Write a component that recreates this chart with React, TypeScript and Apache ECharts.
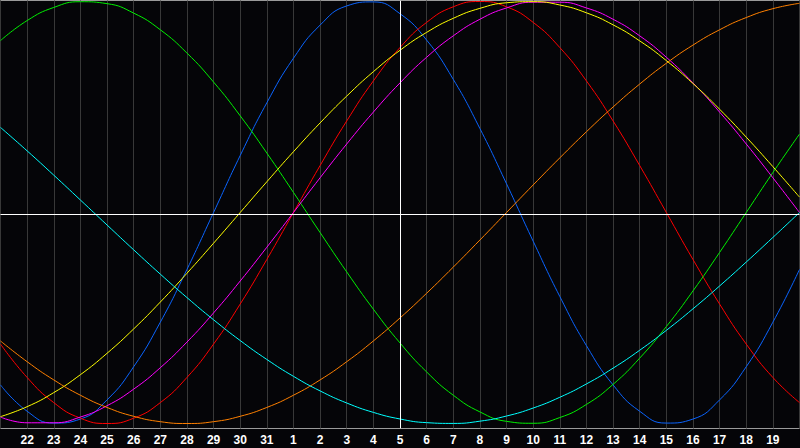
import React, { useEffect, useRef } from "react";
import * as echarts from "echarts";

// Day labels along the bottom (index 0 .. 30)
const DAY_LABELS = [
  "21", "22", "23", "24", "25", "26", "27", "28", "29", "30", "31",
  "1", "2", "3", "4", "5", "6", "7", "8", "9", "10",
  "11", "12", "13", "14", "15", "16", "17", "18", "19", "20",
];

// Cycle values, one per day (-1 .. 1)
const PHYSICAL = [
  -0.817, -0.942, -0.998, -0.979, -0.888, -0.731, -0.520, -0.270, 0, 0.270,
  0.520, 0.731, 0.888, 0.979, 0.998, 0.942, 0.817, 0.631, 0.398, 0.136,
  -0.136, -0.398, -0.631, -0.817, -0.942, -0.998, -0.979, -0.888, -0.731, -0.520,
  -0.270,
];
const EMOTIONAL = [
  -0.6235, -0.7818, -0.901, -0.9749, -1, -0.9749, -0.901, -0.7818, -0.6235, -0.4339,
  -0.2225, 0, 0.2225, 0.4339, 0.6235, 0.7818, 0.901, 0.9749, 1, 0.9749,
  0.901, 0.7818, 0.6235, 0.4339, 0.2225, 0, -0.2225, -0.4339, -0.6235, -0.7818,
  -0.901,
];
const INTELLECTUAL = [
  0.8146, 0.9096, 0.9718, 0.9989, 0.9898, 0.945, 0.866, 0.7557, 0.6182, 0.4582,
  0.2817, 0.0951, -0.0951, -0.2817, -0.4582, -0.6182, -0.7557, -0.866, -0.945, -0.9898,
  -0.9989, -0.9718, -0.9096, -0.8146, -0.6901, -0.5406, -0.3717, -0.1893, 0, 0.1893,
  0.3717,
];
const INTUITION = [
  -0.9694, -0.9966, -0.9966, -0.9694, -0.9158, -0.8372, -0.7357, -0.6142, -0.4759, -0.3247,
  -0.1646, 0, 0.1646, 0.3247, 0.4759, 0.6142, 0.7357, 0.8372, 0.9158, 0.9694,
  0.9966, 0.9966, 0.9694, 0.9158, 0.8372, 0.7357, 0.6142, 0.4759, 0.3247, 0.1646,
  0,
];
const AESTHETIC = [
  -0.9675, -0.9203, -0.8536, -0.7687, -0.6673, -0.5518, -0.4245, -0.2881, -0.1456, 0,
  0.1456, 0.2881, 0.4245, 0.5518, 0.6673, 0.7687, 0.8536, 0.9203, 0.9675, 0.994,
  0.9993, 0.9834, 0.9464, 0.8893, 0.8133, 0.7199, 0.6112, 0.4894, 0.3572, 0.2174,
  0.073,
];
const AWARENESS = [
  -0.6088, -0.7071, -0.7934, -0.866, -0.9239, -0.9659, -0.9914, -1, -0.9914, -0.9659,
  -0.9239, -0.866, -0.7934, -0.7071, -0.6088, -0.5, -0.3827, -0.2588, -0.1305, 0,
  0.1305, 0.2588, 0.3827, 0.5, 0.6088, 0.7071, 0.7934, 0.866, 0.9239, 0.9659,
  0.9914,
];
const SPIRITUAL = [
  0.4031, 0.2921, 0.1769, 0.0592, -0.0592, -0.1769, -0.2921, -0.4031, -0.5085, -0.6068,
  -0.6965, -0.7765, -0.8456, -0.9028, -0.9473, -0.9786, -0.996, -0.9996, -0.989, -0.9646,
  -0.9267, -0.8757, -0.8125, -0.7378, -0.6528, -0.5586, -0.4566, -0.3482, -0.2349, -0.1183,
  0,
];

const TODAY_INDEX = 15;
const CENTER_VALUE = -0.0095;

const SERIES = [
  { name: "Physical", data: PHYSICAL, color: "#0a64ff" },
  { name: "Emotional", data: EMOTIONAL, color: "#ff0000" },
  { name: "Intellectual", data: INTELLECTUAL, color: "#00f000" },
  { name: "Intuition", data: INTUITION, color: "#ff00ff" },
  { name: "Aesthetic", data: AESTHETIC, color: "#ffff00" },
  { name: "Awareness", data: AWARENESS, color: "#ff8000" },
  { name: "Spiritual", data: SPIRITUAL, color: "#00ffff" },
];

export default function App() {
  const ref = useRef<HTMLDivElement>(null);

  useEffect(() => {
    if (!ref.current) return;
    const chart = echarts.init(ref.current, undefined, { renderer: "svg" });
    const series: any[] = SERIES.map((s) => ({
      type: "line",
      name: s.name,
      data: s.data.map((v, i) => [i, v]),
      smooth: true,
      showSymbol: false,
      silent: true,
      lineStyle: { color: s.color, width: 1 },
      itemStyle: { color: s.color },
    }));
    series.push({
      type: "line",
      name: "guides",
      data: [],
      silent: true,
      markLine: {
        silent: true,
        symbol: "none",
        label: { show: false },
        lineStyle: { color: "#ffffff", width: 1, type: "solid" },
        data: [{ xAxis: TODAY_INDEX }, { yAxis: CENTER_VALUE }],
      },
    });

    chart.setOption({
      animation: false,
      backgroundColor: "#050508",
      grid: {
        left: 0.5,
        top: 0.5,
        width: 799,
        height: 428,
        show: true,
        backgroundColor: "#050508",
        borderColor: "#9a9a9a",
        borderWidth: 1,
      },
      xAxis: {
        type: "value",
        min: 0,
        max: 30,
        interval: 1,
        axisLine: { show: false },
        axisTick: { show: false },
        splitLine: { show: true, lineStyle: { color: "#383838", width: 1 } },
        axisLabel: {
          show: true,
          color: "#ffffff",
          fontFamily: "Liberation Sans",
          fontWeight: "bold",
          fontSize: 12,
          margin: 5,
          showMinLabel: false,
          showMaxLabel: false,
          formatter: (v: number) => DAY_LABELS[Math.round(v)] ?? "",
        },
      },
      yAxis: {
        type: "value",
        min: -1.0237,
        max: 1.0047,
        axisLine: { show: false },
        axisTick: { show: false },
        axisLabel: { show: false },
        splitLine: { show: false },
      },
      series,
    });
    return () => chart.dispose();
  }, []);

  return (
    <div
      ref={ref}
      style={{
        position: "fixed",
        left: 0,
        top: 0,
        width: 800,
        height: 448,
        background: "#050508",
      }}
    />
  );
}
